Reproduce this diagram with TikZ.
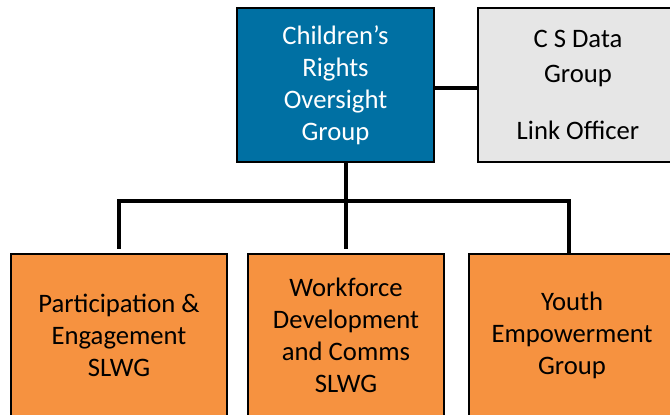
\documentclass[tikz,border=0pt]{standalone}
\usepackage{fontspec}
\setmainfont{Carlito}
\definecolor{croblue}{RGB}{0,112,163}
\definecolor{datagray}{RGB}{230,230,230}
\definecolor{slwgorange}{RGB}{246,146,64}
\begin{document}
\begin{tikzpicture}[x=0.75pt, y=-0.75pt,
    box/.style={draw=black, line width=2pt, align=center, inner sep=0pt,
        font=\fontsize{20}{24}\selectfont},
    link/.style={black, line width=2.8pt}]
            \useasboundingbox (0,0) rectangle (670,414);
            \clip (0,0) rectangle (670,414);
            \fill[white] (0,0) rectangle (670,414);

            \node[box, fill=croblue, text=white, minimum width=197*0.75pt, minimum height=154*0.75pt]
                (crog) at (335.5,85) {Children’s\\Rights\\Oversight\\Group};
            \node[box, fill=datagray, minimum width=200*0.75pt, minimum height=154*0.75pt]
                (csdata) at (578,85) {C S Data\\[2.5pt]Group\\[19pt]Link Officer};

            \node[box, fill=slwgorange, minimum width=216*0.75pt, minimum height=162*0.75pt]
                (pe) at (119,335) {Participation \&\\Engagement\\SLWG};
            \node[box, fill=slwgorange, minimum width=196*0.75pt, minimum height=162*0.75pt]
                (wfd) at (346,335) {Workforce\\Development\\and Comms\\SLWG};
            \node[box, fill=slwgorange, minimum width=206*0.75pt, minimum height=162*0.75pt]
                (ye) at (572,335) {Youth\\Empowerment\\Group};

            \coordinate (bar) at (346,201);

            \draw[link] ([yshift=-2.25pt]crog.east) -- ([yshift=-2.25pt]csdata.west);
            \draw[link] (crog.south -| wfd.north) -- ([yshift=3pt]wfd.north);
            \draw[link] ([yshift=3pt]pe.north) |- (bar) -| ([xshift=-2pt]ye.north);
        \end{tikzpicture}
\end{document}
